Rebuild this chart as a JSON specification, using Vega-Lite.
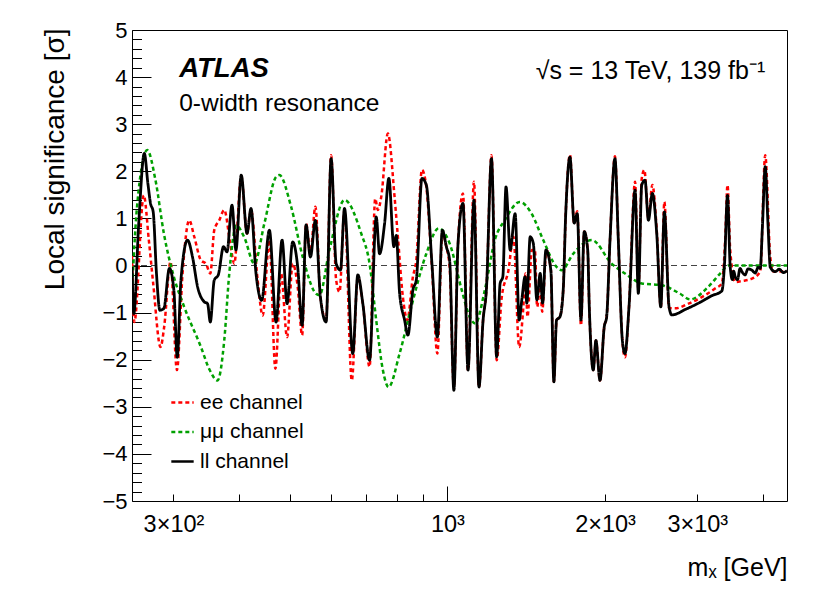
{
  "$schema": "https://vega.github.io/schema/vega-lite/v6.json",
  "width": 655,
  "height": 471,
  "autosize": {"type": "none"},
  "padding": {"left": 132, "top": 30, "right": 43, "bottom": 95},
  "background": "white",
  "config": {
    "view": {"stroke": "#000", "strokeWidth": 1},
    "font": "Liberation Sans",
    "axis": {
      "domain": false, "grid": false, "tickColor": "#000", "tickWidth": 1,
      "labelColor": "#000", "titleColor": "#000",
      "labelFont": "Liberation Sans", "titleFont": "Liberation Sans", "titleFontWeight": "normal",
      "labelFlush": false, "labelOverlap": false, "labelBound": false
    }
  },
  "datasets": {
    "curves": [
      {"channel":"ee channel","mass":250,"sig":0.2},{"channel":"ee channel","mass":252.6,"sig":-1.2},{"channel":"ee channel","mass":263.3,"sig":1.49},{"channel":"ee channel","mass":269.2,"sig":0.54},{"channel":"ee channel","mass":274.4,"sig":-0.38},{"channel":"ee channel","mass":283.4,"sig":-1.73},{"channel":"ee channel","mass":288,"sig":-1.3},{"channel":"ee channel","mass":296.1,"sig":0.08},{"channel":"ee channel","mass":304.6,"sig":-2.22},{"channel":"ee channel","mass":312.2,"sig":-0.17},{"channel":"ee channel","mass":321.5,"sig":0.96},{"channel":"ee channel","mass":328.7,"sig":0.61},{"channel":"ee channel","mass":338.5,"sig":0.11},{"channel":"ee channel","mass":346,"sig":0.04},{"channel":"ee channel","mass":352.7,"sig":-0.17},{"channel":"ee channel","mass":358.9,"sig":0.75},{"channel":"ee channel","mass":366.9,"sig":0.96},{"channel":"ee channel","mass":375,"sig":1.18},{"channel":"ee channel","mass":385,"sig":0.47},{"channel":"ee channel","mass":391.9,"sig":0.04},{"channel":"ee channel","mass":404.1,"sig":1.9},{"channel":"ee channel","mass":414.5,"sig":0.68},{"channel":"ee channel","mass":421.8,"sig":1.18},{"channel":"ee channel","mass":434.3,"sig":-0.31},{"channel":"ee channel","mass":444,"sig":-1.06},{"channel":"ee channel","mass":457.3,"sig":0.54},{"channel":"ee channel","mass":469.5,"sig":-2.19},{"channel":"ee channel","mass":481.4,"sig":-0.17},{"channel":"ee channel","mass":494.3,"sig":-1.52},{"channel":"ee channel","mass":506.6,"sig":0.04},{"channel":"ee channel","mass":517.9,"sig":-0.45},{"channel":"ee channel","mass":528.1,"sig":-1.48},{"channel":"ee channel","mass":537.4,"sig":0.89},{"channel":"ee channel","mass":547.7,"sig":0.25},{"channel":"ee channel","mass":559.8,"sig":1.25},{"channel":"ee channel","mass":572.3,"sig":-0.67},{"channel":"ee channel","mass":586.8,"sig":-1.16},{"channel":"ee channel","mass":599.9,"sig":2.34},{"channel":"ee channel","mass":613.3,"sig":-0.31},{"channel":"ee channel","mass":622.4,"sig":-0.56},{"channel":"ee channel","mass":636.2,"sig":1.18},{"channel":"ee channel","mass":656.9,"sig":-2.44},{"channel":"ee channel","mass":674.6,"sig":-0.24},{"channel":"ee channel","mass":689.6,"sig":-0.81},{"channel":"ee channel","mass":710.3,"sig":-2.15},{"channel":"ee channel","mass":728.3,"sig":1.42},{"channel":"ee channel","mass":736.7,"sig":1.18},{"channel":"ee channel","mass":747.8,"sig":1.46},{"channel":"ee channel","mass":769.8,"sig":2.8},{"channel":"ee channel","mass":792.8,"sig":1.46},{"channel":"ee channel","mass":804.5,"sig":0.61},{"channel":"ee channel","mass":822.4,"sig":-0.67},{"channel":"ee channel","mass":838.5,"sig":-1.16},{"channel":"ee channel","mass":859.4,"sig":-0.24},{"channel":"ee channel","mass":872.3,"sig":0.11},{"channel":"ee channel","mass":894.2,"sig":2.03},{"channel":"ee channel","mass":911.6,"sig":1.67},{"channel":"ee channel","mass":934.4,"sig":-0.03},{"channel":"ee channel","mass":956.9,"sig":-1.87},{"channel":"ee channel","mass":978.2,"sig":0.68},{"channel":"ee channel","mass":995.5,"sig":0.4},{"channel":"ee channel","mass":1010,"sig":-0.03},{"channel":"ee channel","mass":1029,"sig":-2.58},{"channel":"ee channel","mass":1048,"sig":0.47},{"channel":"ee channel","mass":1071,"sig":1.53},{"channel":"ee channel","mass":1095,"sig":-2.22},{"channel":"ee channel","mass":1124,"sig":1.78},{"channel":"ee channel","mass":1149,"sig":-2.58},{"channel":"ee channel","mass":1170,"sig":-1.16},{"channel":"ee channel","mass":1187,"sig":-0.52},{"channel":"ee channel","mass":1214,"sig":2.34},{"channel":"ee channel","mass":1242,"sig":-2.01},{"channel":"ee channel","mass":1270,"sig":-0.67},{"channel":"ee channel","mass":1308,"sig":-0.1},{"channel":"ee channel","mass":1337,"sig":0.61},{"channel":"ee channel","mass":1371,"sig":-1.73},{"channel":"ee channel","mass":1395,"sig":-0.95},{"channel":"ee channel","mass":1410,"sig":-0.17},{"channel":"ee channel","mass":1422,"sig":-1.09},{"channel":"ee channel","mass":1450,"sig":0.33},{"channel":"ee channel","mass":1469,"sig":0.33},{"channel":"ee channel","mass":1484,"sig":-0.88},{"channel":"ee channel","mass":1504,"sig":-0.38},{"channel":"ee channel","mass":1517,"sig":-0.98},{"channel":"ee channel","mass":1545,"sig":0.33},{"channel":"ee channel","mass":1576,"sig":-0.1},{"channel":"ee channel","mass":1597,"sig":-2.47},{"channel":"ee channel","mass":1616,"sig":-1.16},{"channel":"ee channel","mass":1640,"sig":-1.09},{"channel":"ee channel","mass":1664,"sig":-0.52},{"channel":"ee channel","mass":1682,"sig":1.07},{"channel":"ee channel","mass":1714,"sig":2.35},{"channel":"ee channel","mass":1746,"sig":0.9},{"channel":"ee channel","mass":1770,"sig":1.15},{"channel":"ee channel","mass":1799,"sig":-1.27},{"channel":"ee channel","mass":1825,"sig":0.72},{"channel":"ee channel","mass":1853,"sig":0.33},{"channel":"ee channel","mass":1866,"sig":-0.88},{"channel":"ee channel","mass":1899,"sig":-2.22},{"channel":"ee channel","mass":1921,"sig":-1.59},{"channel":"ee channel","mass":1956,"sig":-2.44},{"channel":"ee channel","mass":1993,"sig":-1.3},{"channel":"ee channel","mass":2014,"sig":-1.09},{"channel":"ee channel","mass":2044,"sig":0.54},{"channel":"ee channel","mass":2089,"sig":2.32},{"channel":"ee channel","mass":2120,"sig":0.54},{"channel":"ee channel","mass":2158,"sig":-1.59},{"channel":"ee channel","mass":2183,"sig":-1.95},{"channel":"ee channel","mass":2222,"sig":-0.88},{"channel":"ee channel","mass":2282,"sig":1.78},{"channel":"ee channel","mass":2315,"sig":-0.5},{"channel":"ee channel","mass":2350,"sig":1.85},{"channel":"ee channel","mass":2377,"sig":2.03},{"channel":"ee channel","mass":2420,"sig":1.0},{"channel":"ee channel","mass":2462,"sig":1.71},{"channel":"ee channel","mass":2510,"sig":0.75},{"channel":"ee channel","mass":2555,"sig":-0.88},{"channel":"ee channel","mass":2596,"sig":1.35},{"channel":"ee channel","mass":2650,"sig":-0.91},{"channel":"ee channel","mass":2721,"sig":-0.91},{"channel":"ee channel","mass":2886,"sig":-0.81},{"channel":"ee channel","mass":3060,"sig":-0.67},{"channel":"ee channel","mass":3244,"sig":-0.49},{"channel":"ee channel","mass":3342,"sig":-0.38},{"channel":"ee channel","mass":3391,"sig":0.54},{"channel":"ee channel","mass":3426,"sig":1.71},{"channel":"ee channel","mass":3467,"sig":0.33},{"channel":"ee channel","mass":3544,"sig":-0.35},{"channel":"ee channel","mass":3650,"sig":-0.33},{"channel":"ee channel","mass":3814,"sig":-0.28},{"channel":"ee channel","mass":3956,"sig":-0.13},{"channel":"ee channel","mass":4044,"sig":2.34},{"channel":"ee channel","mass":4135,"sig":0.17},{"channel":"ee channel","mass":4195,"sig":-0.13},{"channel":"ee channel","mass":4450,"sig":-0.13},
      {"channel":"μμ channel","mass":250,"sig":-0.55},{"channel":"μμ channel","mass":255.6,"sig":1.25},{"channel":"μμ channel","mass":267.3,"sig":2.45},{"channel":"μμ channel","mass":277.2,"sig":1.81},{"channel":"μμ channel","mass":287.6,"sig":0.68},{"channel":"μμ channel","mass":300.5,"sig":-0.24},{"channel":"μμ channel","mass":314.5,"sig":-0.88},{"channel":"μμ channel","mass":338.5,"sig":-1.73},{"channel":"μμ channel","mass":351.1,"sig":-2.2},{"channel":"μμ channel","mass":364.2,"sig":-2.44},{"channel":"μμ channel","mass":375,"sig":-1.59},{"channel":"μμ channel","mass":383.4,"sig":-0.17},{"channel":"μμ channel","mass":395.3,"sig":0.85},{"channel":"μμ channel","mass":409.5,"sig":0.6},{"channel":"μμ channel","mass":428,"sig":0.04},{"channel":"μμ channel","mass":447.3,"sig":0.89},{"channel":"μμ channel","mass":470.9,"sig":1.88},{"channel":"μμ channel","mass":477.8,"sig":1.92},{"channel":"μμ channel","mass":503.1,"sig":1.25},{"channel":"μμ channel","mass":529.5,"sig":0.18},{"channel":"μμ channel","mass":561.6,"sig":-0.6},{"channel":"μμ channel","mass":569.9,"sig":-0.63},{"channel":"μμ channel","mass":595.5,"sig":0.33},{"channel":"μμ channel","mass":636.2,"sig":1.39},{"channel":"μμ channel","mass":684.7,"sig":0.68},{"channel":"μμ channel","mass":710.3,"sig":0.04},{"channel":"μμ channel","mass":731.4,"sig":-1.16},{"channel":"μμ channel","mass":753.1,"sig":-2.22},{"channel":"μμ channel","mass":772.2,"sig":-2.58},{"channel":"μμ channel","mass":810.6,"sig":-1.87},{"channel":"μμ channel","mass":853.3,"sig":-0.88},{"channel":"μμ channel","mass":911.6,"sig":0.25},{"channel":"μμ channel","mass":962.4,"sig":0.79},{"channel":"μμ channel","mass":1010,"sig":0.47},{"channel":"μμ channel","mass":1064,"sig":-0.5},{"channel":"μμ channel","mass":1103,"sig":-1.09},{"channel":"μμ channel","mass":1131,"sig":-1.23},{"channel":"μμ channel","mass":1179,"sig":-0.52},{"channel":"μμ channel","mass":1232,"sig":0.54},{"channel":"μμ channel","mass":1287,"sig":0.96},{"channel":"μμ channel","mass":1375,"sig":1.35},{"channel":"μμ channel","mass":1448,"sig":1.1},{"channel":"μμ channel","mass":1524,"sig":0.54},{"channel":"μμ channel","mass":1616,"sig":-0.03},{"channel":"μμ channel","mass":1652,"sig":-0.1},{"channel":"μμ channel","mass":1739,"sig":0.25},{"channel":"μμ channel","mass":1886,"sig":0.54},{"channel":"μμ channel","mass":2059,"sig":0.04},{"channel":"μμ channel","mass":2183,"sig":-0.17},{"channel":"μμ channel","mass":2350,"sig":-0.38},{"channel":"μμ channel","mass":2566,"sig":-0.42},{"channel":"μμ channel","mass":2782,"sig":-0.6},{"channel":"μμ channel","mass":2907,"sig":-0.72},{"channel":"μμ channel","mass":3150,"sig":-0.45},{"channel":"μμ channel","mass":3317,"sig":-0.17},{"channel":"μμ channel","mass":3441,"sig":0},{"channel":"μμ channel","mass":4450,"sig":0},
      {"channel":"ll channel","mass":250,"sig":-0.03},{"channel":"ll channel","mass":252,"sig":-1.02},{"channel":"ll channel","mass":257.5,"sig":0.89},{"channel":"ll channel","mass":263.9,"sig":2.38},{"channel":"ll channel","mass":268.1,"sig":1.74},{"channel":"ll channel","mass":271.2,"sig":1.32},{"channel":"ll channel","mass":274.4,"sig":1.14},{"channel":"ll channel","mass":278.4,"sig":-0.17},{"channel":"ll channel","mass":282.6,"sig":-0.95},{"channel":"ll channel","mass":287.6,"sig":-0.91},{"channel":"ll channel","mass":294.7,"sig":-0.06},{"channel":"ll channel","mass":300.5,"sig":-0.52},{"channel":"ll channel","mass":305,"sig":-1.95},{"channel":"ll channel","mass":310,"sig":-0.31},{"channel":"ll channel","mass":319.1,"sig":0.54},{"channel":"ll channel","mass":326.2,"sig":0.18},{"channel":"ll channel","mass":333.5,"sig":-0.45},{"channel":"ll channel","mass":343.4,"sig":-0.77},{"channel":"ll channel","mass":348.5,"sig":-0.81},{"channel":"ll channel","mass":352.7,"sig":-1.2},{"channel":"ll channel","mass":358.9,"sig":-0.31},{"channel":"ll channel","mass":365.3,"sig":-0.2},{"channel":"ll channel","mass":373.9,"sig":0.4},{"channel":"ll channel","mass":379.5,"sig":0.29},{"channel":"ll channel","mass":388,"sig":1.28},{"channel":"ll channel","mass":394.8,"sig":0.33},{"channel":"ll channel","mass":404.1,"sig":1.92},{"channel":"ll channel","mass":414.5,"sig":0.68},{"channel":"ll channel","mass":421.8,"sig":1.21},{"channel":"ll channel","mass":431.2,"sig":-0.17},{"channel":"ll channel","mass":442,"sig":-0.74},{"channel":"ll channel","mass":457.3,"sig":0.75},{"channel":"ll channel","mass":470.9,"sig":-1.2},{"channel":"ll channel","mass":483.5,"sig":0.54},{"channel":"ll channel","mass":494.3,"sig":-0.81},{"channel":"ll channel","mass":506.6,"sig":0.5},{"channel":"ll channel","mass":517.9,"sig":-0.03},{"channel":"ll channel","mass":528.1,"sig":-1.27},{"channel":"ll channel","mass":537.4,"sig":0.86},{"channel":"ll channel","mass":547.7,"sig":0.18},{"channel":"ll channel","mass":559.8,"sig":0.96},{"channel":"ll channel","mass":572.3,"sig":-0.67},{"channel":"ll channel","mass":586.8,"sig":-1.2},{"channel":"ll channel","mass":599.9,"sig":2.27},{"channel":"ll channel","mass":613.3,"sig":0.04},{"channel":"ll channel","mass":625.1,"sig":-0.1},{"channel":"ll channel","mass":636.2,"sig":1.21},{"channel":"ll channel","mass":659.8,"sig":-1.87},{"channel":"ll channel","mass":674.6,"sig":-0.2},{"channel":"ll channel","mass":689.6,"sig":-0.81},{"channel":"ll channel","mass":710.3,"sig":-2.01},{"channel":"ll channel","mass":731.4,"sig":1.03},{"channel":"ll channel","mass":742.3,"sig":0.25},{"channel":"ll channel","mass":758.8,"sig":0.89},{"channel":"ll channel","mass":773.2,"sig":1.85},{"channel":"ll channel","mass":790.4,"sig":0.4},{"channel":"ll channel","mass":798.7,"sig":0.64},{"channel":"ll channel","mass":810.6,"sig":-0.59},{"channel":"ll channel","mass":828.6,"sig":-1.16},{"channel":"ll channel","mass":840.7,"sig":-1.48},{"channel":"ll channel","mass":859.4,"sig":-0.52},{"channel":"ll channel","mass":872.3,"sig":-0.31},{"channel":"ll channel","mass":894.2,"sig":1.85},{"channel":"ll channel","mass":911.6,"sig":1.71},{"channel":"ll channel","mass":934.4,"sig":0.04},{"channel":"ll channel","mass":956.9,"sig":-1.52},{"channel":"ll channel","mass":978.2,"sig":0.75},{"channel":"ll channel","mass":995.5,"sig":0.4},{"channel":"ll channel","mass":1010,"sig":0.11},{"channel":"ll channel","mass":1029,"sig":-2.65},{"channel":"ll channel","mass":1048,"sig":0.47},{"channel":"ll channel","mass":1071,"sig":1.32},{"channel":"ll channel","mass":1095,"sig":-2.22},{"channel":"ll channel","mass":1124,"sig":1.39},{"channel":"ll channel","mass":1149,"sig":-2.58},{"channel":"ll channel","mass":1170,"sig":-1.16},{"channel":"ll channel","mass":1187,"sig":-0.52},{"channel":"ll channel","mass":1214,"sig":2.27},{"channel":"ll channel","mass":1242,"sig":-1.94},{"channel":"ll channel","mass":1261,"sig":-0.38},{"channel":"ll channel","mass":1276,"sig":-0.24},{"channel":"ll channel","mass":1294,"sig":1.67},{"channel":"ll channel","mass":1318,"sig":0.33},{"channel":"ll channel","mass":1347,"sig":1.1},{"channel":"ll channel","mass":1371,"sig":-1.16},{"channel":"ll channel","mass":1387,"sig":-0.73},{"channel":"ll channel","mass":1407,"sig":-0.24},{"channel":"ll channel","mass":1418,"sig":-0.8},{"channel":"ll channel","mass":1439,"sig":0.61},{"channel":"ll channel","mass":1459,"sig":0.47},{"channel":"ll channel","mass":1482,"sig":-0.73},{"channel":"ll channel","mass":1504,"sig":-0.17},{"channel":"ll channel","mass":1520,"sig":-0.8},{"channel":"ll channel","mass":1542,"sig":0.33},{"channel":"ll channel","mass":1576,"sig":-0.1},{"channel":"ll channel","mass":1597,"sig":-2.47},{"channel":"ll channel","mass":1616,"sig":-1.16},{"channel":"ll channel","mass":1640,"sig":-1.09},{"channel":"ll channel","mass":1664,"sig":-0.52},{"channel":"ll channel","mass":1682,"sig":1.07},{"channel":"ll channel","mass":1714,"sig":2.3},{"channel":"ll channel","mass":1746,"sig":0.9},{"channel":"ll channel","mass":1770,"sig":1.1},{"channel":"ll channel","mass":1799,"sig":-1.16},{"channel":"ll channel","mass":1825,"sig":0.72},{"channel":"ll channel","mass":1853,"sig":0.33},{"channel":"ll channel","mass":1866,"sig":-0.88},{"channel":"ll channel","mass":1899,"sig":-2.22},{"channel":"ll channel","mass":1921,"sig":-1.59},{"channel":"ll channel","mass":1956,"sig":-2.44},{"channel":"ll channel","mass":1993,"sig":-1.3},{"channel":"ll channel","mass":2014,"sig":-1.09},{"channel":"ll channel","mass":2044,"sig":0.54},{"channel":"ll channel","mass":2089,"sig":2.27},{"channel":"ll channel","mass":2120,"sig":0.54},{"channel":"ll channel","mass":2158,"sig":-1.59},{"channel":"ll channel","mass":2183,"sig":-1.87},{"channel":"ll channel","mass":2222,"sig":-0.88},{"channel":"ll channel","mass":2282,"sig":1.6},{"channel":"ll channel","mass":2315,"sig":-0.59},{"channel":"ll channel","mass":2350,"sig":1.71},{"channel":"ll channel","mass":2384,"sig":1.81},{"channel":"ll channel","mass":2420,"sig":0.96},{"channel":"ll channel","mass":2462,"sig":1.53},{"channel":"ll channel","mass":2510,"sig":0.68},{"channel":"ll channel","mass":2555,"sig":-0.88},{"channel":"ll channel","mass":2596,"sig":1.14},{"channel":"ll channel","mass":2650,"sig":-0.88},{"channel":"ll channel","mass":2682,"sig":-1.05},{"channel":"ll channel","mass":2850,"sig":-0.93},{"channel":"ll channel","mass":3038,"sig":-0.78},{"channel":"ll channel","mass":3200,"sig":-0.64},{"channel":"ll channel","mass":3342,"sig":-0.54},{"channel":"ll channel","mass":3381,"sig":0.03},{"channel":"ll channel","mass":3426,"sig":1.49},{"channel":"ll channel","mass":3467,"sig":-0.03},{"channel":"ll channel","mass":3500,"sig":-0.3},{"channel":"ll channel","mass":3520,"sig":-0.12},{"channel":"ll channel","mass":3544,"sig":-0.24},{"channel":"ll channel","mass":3580,"sig":-0.3},{"channel":"ll channel","mass":3620,"sig":-0.06},{"channel":"ll channel","mass":3650,"sig":-0.13},{"channel":"ll channel","mass":3700,"sig":-0.2},{"channel":"ll channel","mass":3750,"sig":-0.07},{"channel":"ll channel","mass":3814,"sig":-0.1},{"channel":"ll channel","mass":3870,"sig":-0.16},{"channel":"ll channel","mass":3920,"sig":-0.04},{"channel":"ll channel","mass":3956,"sig":-0.06},{"channel":"ll channel","mass":3996,"sig":0.88},{"channel":"ll channel","mass":4044,"sig":2.1},{"channel":"ll channel","mass":4093,"sig":0.88},{"channel":"ll channel","mass":4135,"sig":-0.04},{"channel":"ll channel","mass":4226,"sig":-0.13},{"channel":"ll channel","mass":4300,"sig":-0.08},{"channel":"ll channel","mass":4380,"sig":-0.15},{"channel":"ll channel","mass":4450,"sig":-0.11}
    ]
  },
  "data": {"name": "curves"},
  "layer": [
    {
      "data": {"values": [{}]},
      "mark": {"type": "rule", "color": "#444", "strokeDash": [6, 4], "strokeWidth": 1.1},
      "encoding": {
        "y": {
          "datum": 0, "type": "quantitative",
          "scale": {"domain": [-5, 5], "nice": false, "zero": false},
          "axis": {
            "orient": "left", "values": [-5, -4, -3, -2, -1, 0, 1, 2, 3, 4, 5],
            "tickSize": -19, "labelPadding": 24, "labelFontSize": 22,
            "title": "Local significance [σ]", "titleFontSize": 28,
            "titleAngle": 270, "titleAlign": "right", "titleBaseline": "alphabetic",
            "titleX": -69, "titleY": -2
          }
        }
      }
    },
    {
      "transform": [{"filter": "datum.channel == 'ee channel'"}],
      "mark": {"type": "line", "strokeWidth": 2.5, "clip": true, "interpolate": "monotone"},
      "encoding": {
        "x": {
          "field": "mass", "type": "quantitative",
          "scale": {"type": "log", "domain": [250, 4450], "nice": false, "zero": false},
          "axis": {
            "orient": "bottom", "values": [300, 400, 500, 600, 700, 800, 900, 2000, 3000, 4000],
            "tickSize": -7, "labelPadding": 18, "labelFontSize": 23.5,
            "labelExpr": "datum.value == 300 ? '3×10²' : datum.value == 2000 ? '2×10³' : datum.value == 3000 ? '3×10³' : ''",
            "title": "mₓ [GeV]", "titleFontSize": 25, "titleAlign": "right", "titleBaseline": "alphabetic",
            "titleX": 655, "titleY": 74
          }
        },
        "y": {
          "field": "sig", "type": "quantitative",
          "scale": {"domain": [-5, 5], "nice": false, "zero": false},
          "axis": {
            "orient": "left",
            "values": [-4.8, -4.6, -4.4, -4.2, -3.8, -3.6, -3.4, -3.2, -2.8, -2.6, -2.4, -2.2, -1.8, -1.6, -1.4, -1.2, -0.8, -0.6, -0.4, -0.2, 0.2, 0.4, 0.6, 0.8, 1.2, 1.4, 1.6, 1.8, 2.2, 2.4, 2.6, 2.8, 3.2, 3.4, 3.6, 3.8, 4.2, 4.4, 4.6, 4.8],
            "tickSize": -9.5, "labels": false, "title": null
          }
        },
        "color": {
          "field": "channel", "type": "nominal",
          "scale": {"domain": ["ee channel", "μμ channel", "ll channel"], "range": ["#ff0000", "#00a000", "#000000"]},
          "legend": {
            "title": null, "orient": "none", "legendX": 38, "legendY": 360,
            "symbolType": "stroke", "symbolSize": 500, "symbolStrokeWidth": 2.5,
            "labelFontSize": 21, "labelFont": "Liberation Sans", "labelColor": "#000",
            "labelOffset": 5, "rowPadding": 6.5, "padding": 0, "labelLimit": 300
          }
        },
        "strokeDash": {
          "field": "channel", "type": "nominal",
          "scale": {"domain": ["ee channel", "μμ channel", "ll channel"], "range": [[4, 3], [4, 3], [1, 0]]},
          "legend": {
            "title": null, "orient": "none", "legendX": 38, "legendY": 360,
            "symbolType": "stroke", "symbolSize": 500, "symbolStrokeWidth": 2.5,
            "labelFontSize": 21, "labelFont": "Liberation Sans", "labelColor": "#000",
            "labelOffset": 5, "rowPadding": 6.5, "padding": 0, "labelLimit": 300
          }
        }
      }
    },
    {
      "transform": [{"filter": "datum.channel == 'μμ channel'"}],
      "mark": {"type": "line", "strokeWidth": 2.5, "clip": true, "interpolate": "monotone"},
      "encoding": {
        "x": {
          "field": "mass", "type": "quantitative",
          "scale": {"type": "log", "domain": [250, 4450], "nice": false, "zero": false},
          "axis": {
            "orient": "bottom", "values": [1000], "tickSize": -15, "labelPadding": 26,
            "labelFontSize": 23.5, "labelExpr": "'10³'", "title": null
          }
        },
        "y": {"field": "sig", "type": "quantitative", "scale": {"domain": [-5, 5], "nice": false, "zero": false}, "axis": null},
        "color": {"field": "channel", "type": "nominal", "scale": {"domain": ["ee channel", "μμ channel", "ll channel"], "range": ["#ff0000", "#00a000", "#000000"]}},
        "strokeDash": {"field": "channel", "type": "nominal", "scale": {"domain": ["ee channel", "μμ channel", "ll channel"], "range": [[4, 3], [4, 3], [1, 0]]}}
      }
    },
    {
      "transform": [{"filter": "datum.channel == 'll channel'"}],
      "mark": {"type": "line", "strokeWidth": 2.8, "clip": true, "interpolate": "monotone"},
      "encoding": {
        "x": {"field": "mass", "type": "quantitative", "scale": {"type": "log", "domain": [250, 4450], "nice": false, "zero": false}, "axis": null},
        "y": {"field": "sig", "type": "quantitative", "scale": {"domain": [-5, 5], "nice": false, "zero": false}, "axis": null},
        "color": {"field": "channel", "type": "nominal", "scale": {"domain": ["ee channel", "μμ channel", "ll channel"], "range": ["#ff0000", "#00a000", "#000000"]}},
        "strokeDash": {"field": "channel", "type": "nominal", "scale": {"domain": ["ee channel", "μμ channel", "ll channel"], "range": [[4, 3], [4, 3], [1, 0]]}}
      }
    },
    {
      "data": {"values": [{}]},
      "mark": {"type": "text", "text": "ATLAS", "font": "Liberation Sans", "fontSize": 27.5, "fontWeight": "bold", "fontStyle": "italic", "align": "left", "baseline": "alphabetic", "color": "#000"},
      "encoding": {
        "x": {"datum": 307.7, "type": "quantitative", "axis": null},
        "y": {"datum": 4.0, "type": "quantitative", "axis": null}
      }
    },
    {
      "data": {"values": [{}]},
      "mark": {"type": "text", "text": "0-width resonance", "font": "Liberation Sans", "fontSize": 24.5, "align": "left", "baseline": "alphabetic", "color": "#000"},
      "encoding": {
        "x": {"datum": 307.7, "type": "quantitative", "axis": null},
        "y": {"datum": 3.28, "type": "quantitative", "axis": null}
      }
    },
    {
      "data": {"values": [{}]},
      "mark": {"type": "text", "text": "√s = 13 TeV, 139 fb⁻¹", "font": "Liberation Sans", "fontSize": 25, "align": "right", "baseline": "alphabetic", "color": "#000"},
      "encoding": {
        "x": {"datum": 4044, "type": "quantitative", "axis": null},
        "y": {"datum": 3.96, "type": "quantitative", "axis": null}
      }
    }
  ],
  "resolve": {"axis": {"x": "independent", "y": "independent"}}
}
